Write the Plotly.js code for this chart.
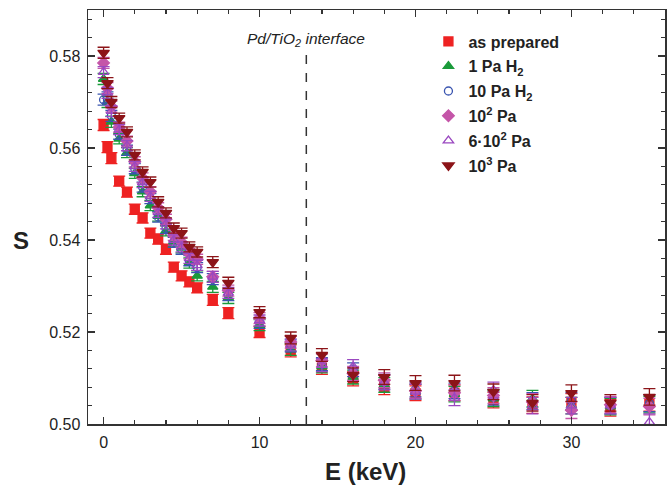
<!DOCTYPE html>
<html>
<head>
<meta charset="utf-8">
<script src="https://cdn.plot.ly/plotly-3.0.1.min.js"></script>
<style>html,body{margin:0;padding:0;background:#fff}#chart{width:671px;height:489px}</style>
</head>
<body>
<div id="chart"></div>
<script>
// Energy (keV)
var energy = [0,0.25,0.5,1,1.5,2,2.5,3,3.5,4,4.5,5,5.5,6,7,8,10,12,14,16,18,20,22.5,25,27.5,30,32.5,35];
// S parameter per series
var sAsPrepared = [0.5650,0.5602,0.5578,0.5528,0.5504,0.5467,0.5448,0.5415,0.5402,0.5380,0.5341,0.5322,0.5309,0.5296,0.5270,0.5241,0.5200,0.5159,0.5122,0.5098,0.5080,0.5067,0.5068,0.5052,0.5041,0.5048,0.5035,0.5046];
var s1PaH2 = [0.5750,0.5700,0.5657,0.5620,0.5590,0.5545,0.5505,0.5475,0.5452,0.5420,0.5396,0.5383,0.5350,0.5322,0.5298,0.5274,0.5215,0.5162,0.5125,0.5102,0.5085,0.5070,0.5065,0.5055,0.5055,0.5040,0.5038,0.5042];
var s10PaH2 = [0.5705,0.5710,0.5670,0.5630,0.5595,0.5555,0.5515,0.5490,0.5450,0.5425,0.5395,0.5380,0.5355,0.5340,0.5315,0.5280,0.5220,0.5170,0.5130,0.5118,0.5092,0.5075,0.5072,0.5058,0.5050,0.5050,0.5040,0.5045];
var s1e2Pa = [0.5785,0.5730,0.5690,0.5645,0.5615,0.5570,0.5535,0.5505,0.5470,0.5445,0.5410,0.5395,0.5370,0.5358,0.5320,0.5290,0.5230,0.5178,0.5138,0.5110,0.5095,0.5072,0.5068,0.5062,0.5048,0.5030,0.5042,0.5038];
var s6e2Pa = [0.5765,0.5720,0.5680,0.5640,0.5605,0.5560,0.5525,0.5495,0.5460,0.5435,0.5400,0.5385,0.5360,0.5345,0.5320,0.5285,0.5225,0.5172,0.5128,0.5125,0.5090,0.5070,0.5057,0.5074,0.5040,0.5040,0.5040,0.5004];
var s1e3Pa = [0.5807,0.5741,0.5700,0.5665,0.5635,0.5585,0.5548,0.5526,0.5483,0.5459,0.5426,0.5415,0.5385,0.5374,0.5352,0.5307,0.5243,0.5187,0.5150,0.5107,0.5102,0.5089,0.5089,0.5070,0.5046,0.5067,0.5046,0.5059];
// error (same for all series)
var sErr = [0.0012,0.0012,0.0012,0.0011,0.0011,0.0011,0.0011,0.0011,0.0011,0.0011,0.0011,0.0011,0.0011,0.0011,0.0012,0.0012,0.0012,0.0013,0.0014,0.0015,0.0016,0.0016,0.0017,0.0017,0.0018,0.0018,0.0018,0.0018];

var names = ['as prepared','1 Pa H<sub>2</sub>','10 Pa H<sub>2</sub>','10<sup>2</sup> Pa','6·10<sup>2</sup> Pa','10<sup>3</sup> Pa'];
var series = [sAsPrepared, s1PaH2, s10PaH2, s1e2Pa, s6e2Pa, s1e3Pa];
var colors = ['#ee2222','#1a9a3a','#3a55b0','#c455a8','#9a48c0','#8c1418'];
var symbols = ['square','triangle-up','circle-open','diamond','triangle-up-open','triangle-down'];
var sizes = [9,9,8,9,9,10];

var traces = series.map(function(s,i){
  return {
    x: energy, y: s, type:'scatter', mode:'markers', name: names[i],
    legendgroup: 'g'+i,
    marker:{symbol:symbols[i], color:colors[i], size:sizes[i], line:{color:colors[i], width:1.3}},
    error_y:{type:'data', array:sErr, visible:true, color:colors[i], thickness:1.3, width:6}
  };
});

var layout = {
  width:671, height:489,
  margin:{l:88, r:6, t:10, b:65},
  paper_bgcolor:'#fff', plot_bgcolor:'#fff',
  font:{family:'"Liberation Sans", Arial, sans-serif', color:'#222'},
  showlegend:true,
  legend:{x:0.59, y:0.965, xanchor:'left', yanchor:'top', bgcolor:'rgba(0,0,0,0)',
    font:{size:16, weight:'bold', color:'#222'}, tracegroupgap:1, itemwidth:30},
  xaxis:{range:[-1,36], dtick:10, tick0:0, ticks:'inside', ticklen:7, tickwidth:1.3, tickcolor:'#333',
    showline:true, mirror:'ticks', linecolor:'#333', linewidth:1.5, showgrid:false, zeroline:false,
    tickfont:{size:16, color:'#222'}, ticklabelstandoff:3,
    minor:{dtick:2, tick0:0, ticks:'inside', ticklen:4, tickwidth:1.2, tickcolor:'#333', showgrid:false}},
  yaxis:{range:[0.5,0.59], dtick:0.02, tick0:0.5, tickformat:'.2f', ticks:'inside', ticklen:7, tickwidth:1.3, tickcolor:'#333',
    showline:true, mirror:'ticks', linecolor:'#333', linewidth:1.5, showgrid:false, zeroline:false,
    tickfont:{size:16, color:'#222'}, ticklabelstandoff:3,
    minor:{dtick:0.004, tick0:0.5, ticks:'inside', ticklen:4, tickwidth:1.2, tickcolor:'#333', showgrid:false}},
  shapes:[{type:'line', xref:'x', yref:'y', x0:13, x1:13, y0:0.5, y1:0.5808, line:{color:'#333', width:1.5, dash:'dash'}}],
  annotations:[
    {xref:'x', yref:'paper', x:13, y:0.928, text:'<i>Pd/TiO<sub>2</sub> interface</i>', showarrow:false,
      font:{size:15.5, color:'#222'}, xanchor:'center', yanchor:'middle'},
    {xref:'paper', yref:'paper', x:(365-88)/577, y:-(471-424)/414, text:'<b>E (keV)</b>', showarrow:false,
      font:{size:24, color:'#222'}, xanchor:'center', yanchor:'middle'},
    {xref:'paper', yref:'paper', x:-(88-21)/577, y:(424-240)/414, text:'<b>S</b>', showarrow:false,
      font:{size:24, color:'#222'}, xanchor:'center', yanchor:'middle'}
  ]
};

Plotly.newPlot('chart', traces, layout, {displayModeBar:false, staticPlot:true});
</script>
</body>
</html>
